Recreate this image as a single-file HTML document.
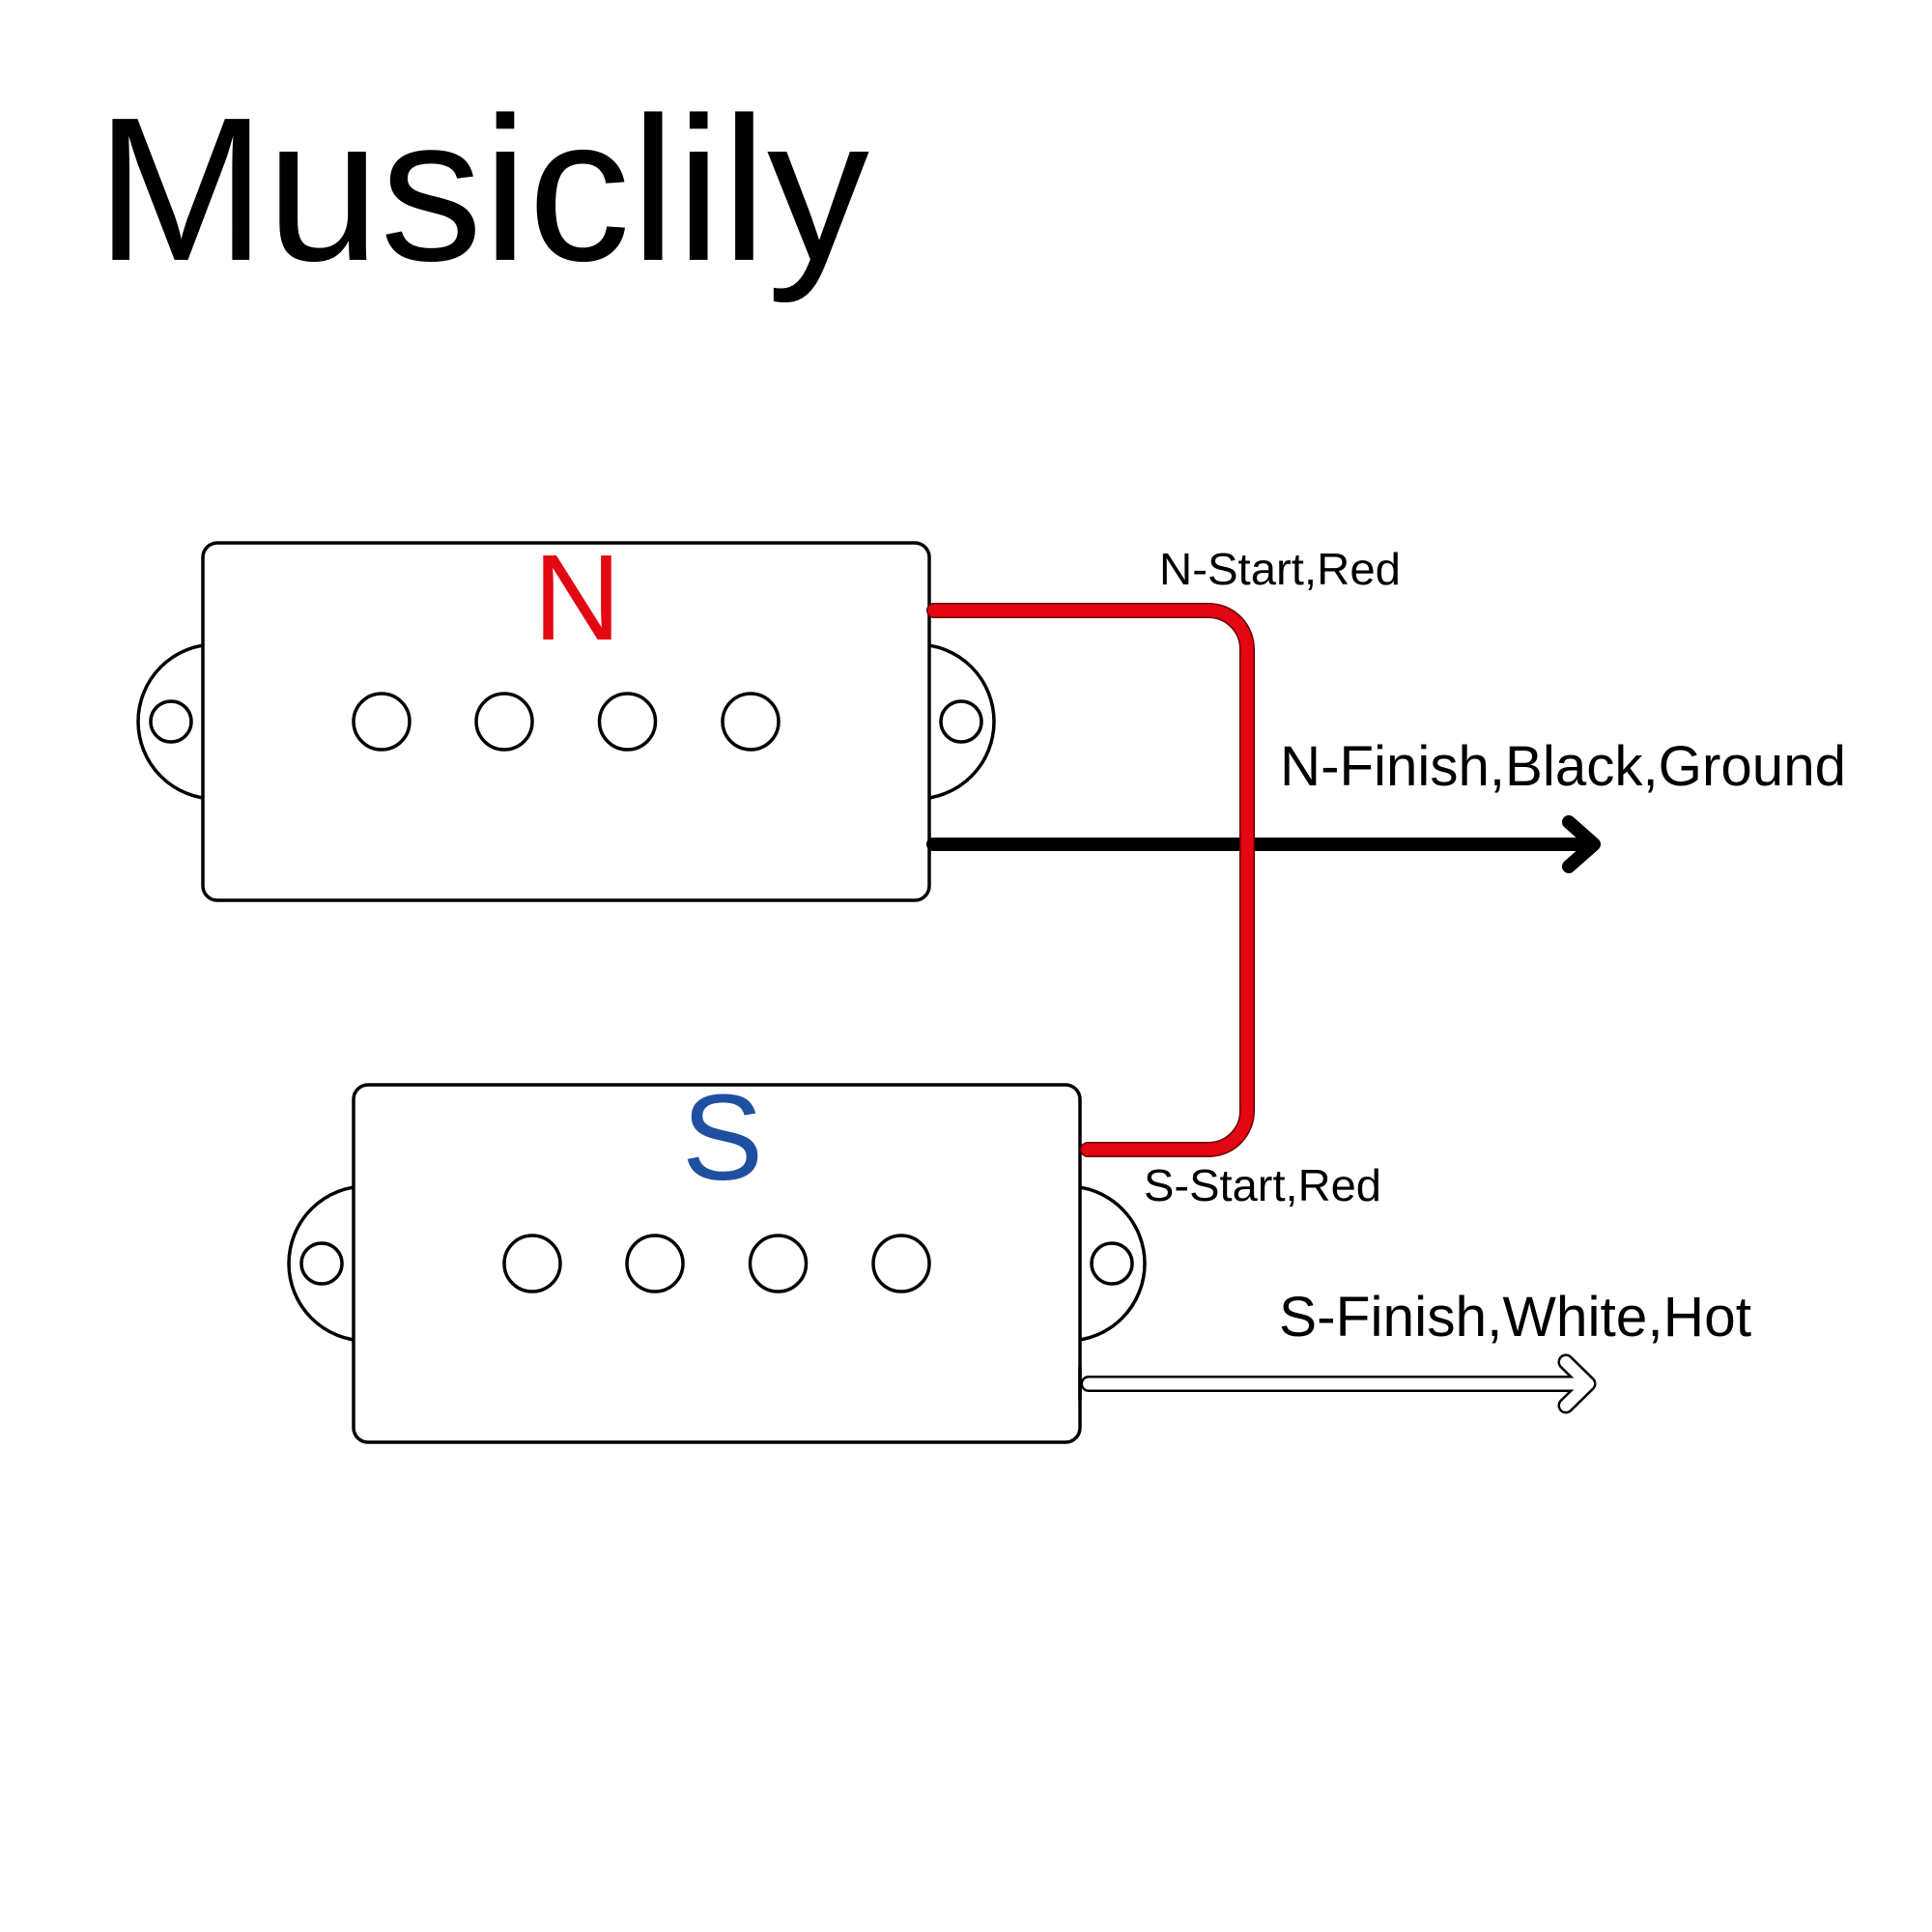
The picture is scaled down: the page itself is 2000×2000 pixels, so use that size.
<!DOCTYPE html>
<html>
<head>
<meta charset="utf-8">
<style>
  html, body { margin: 0; padding: 0; background: #ffffff; }
  svg { display: block; }
  text { font-family: "Liberation Sans", Arial, sans-serif; }
</style>
</head>
<body>
<svg width="2000" height="2000" viewBox="0 0 2000 2000" xmlns="http://www.w3.org/2000/svg">
  <rect x="0" y="0" width="2000" height="2000" fill="#ffffff"/>

  <!-- Title -->
  <text x="99" y="269" font-size="212" fill="#000">Musiclily</text>

  <!-- N pickup -->
  <g stroke="#000" stroke-width="3.5" fill="#fff">
    <circle cx="223" cy="747" r="80"/>
    <circle cx="949" cy="747" r="80"/>
    <rect x="210" y="562" width="752" height="370" rx="15" ry="15"/>
    <circle cx="177" cy="747" r="21"/>
    <circle cx="995" cy="747" r="21"/>
    <circle cx="395" cy="747" r="29"/>
    <circle cx="522" cy="747" r="29"/>
    <circle cx="649.5" cy="747" r="29"/>
    <circle cx="777" cy="747" r="29"/>
  </g>
  <text x="552" y="662" font-size="126" fill="#e30613">N</text>

  <!-- S pickup -->
  <g stroke="#000" stroke-width="3.5" fill="#fff">
    <circle cx="379" cy="1308" r="80"/>
    <circle cx="1105" cy="1308" r="80"/>
    <rect x="366" y="1123" width="752" height="370" rx="15" ry="15"/>
    <circle cx="333" cy="1308" r="21"/>
    <circle cx="1151" cy="1308" r="21"/>
    <circle cx="551" cy="1308" r="29"/>
    <circle cx="678" cy="1308" r="29"/>
    <circle cx="805.5" cy="1308" r="29"/>
    <circle cx="933" cy="1308" r="29"/>
  </g>
  <text x="706" y="1221" font-size="126" fill="#1f4fa0">S</text>

  <!-- Black wire (N-Finish) -->
  <g stroke="#000" stroke-width="14" stroke-linecap="round" stroke-linejoin="round" fill="none">
    <path d="M966,874 H1648"/>
    <path d="M1624,851 L1650,874 L1624,897"/>
  </g>

  <!-- Red wire (N-Start to S-Start) -->
  <path d="M967,632 H1251 A40,40 0 0 1 1291,672 V1150 A40,40 0 0 1 1251,1190 H1126"
        stroke="#6b0000" stroke-width="16" stroke-linecap="round" stroke-linejoin="round" fill="none"/>
  <path d="M967,632 H1251 A40,40 0 0 1 1291,672 V1150 A40,40 0 0 1 1251,1190 H1126"
        stroke="#e30613" stroke-width="13" stroke-linecap="round" stroke-linejoin="round" fill="none"/>

  <!-- White wire (S-Finish) -->
  <g stroke="#000" stroke-width="17" stroke-linecap="round" stroke-linejoin="round" fill="none">
    <path d="M1127,1432.5 H1642"/>
    <path d="M1621,1410 L1644,1432.5 L1621,1455"/>
  </g>
  <g stroke="#fff" stroke-width="12" stroke-linecap="round" stroke-linejoin="round" fill="none">
    <path d="M1127,1432.5 H1642"/>
    <path d="M1621,1410 L1644,1432.5 L1621,1455"/>
  </g>
  <line x1="1118" y1="1415" x2="1118" y2="1450" stroke="#000" stroke-width="3.5"/>

  <!-- Labels -->
  <text x="1200" y="605" font-size="46" fill="#000" textLength="250" lengthAdjust="spacingAndGlyphs">N-Start,Red</text>
  <text x="1325" y="813" font-size="58" fill="#000" textLength="586" lengthAdjust="spacingAndGlyphs">N-Finish,Black,Ground</text>
  <text x="1184" y="1243" font-size="46" fill="#000" textLength="246" lengthAdjust="spacingAndGlyphs">S-Start,Red</text>
  <text x="1324" y="1383" font-size="58" fill="#000" textLength="489" lengthAdjust="spacingAndGlyphs">S-Finish,White,Hot</text>
</svg>
</body>
</html>
